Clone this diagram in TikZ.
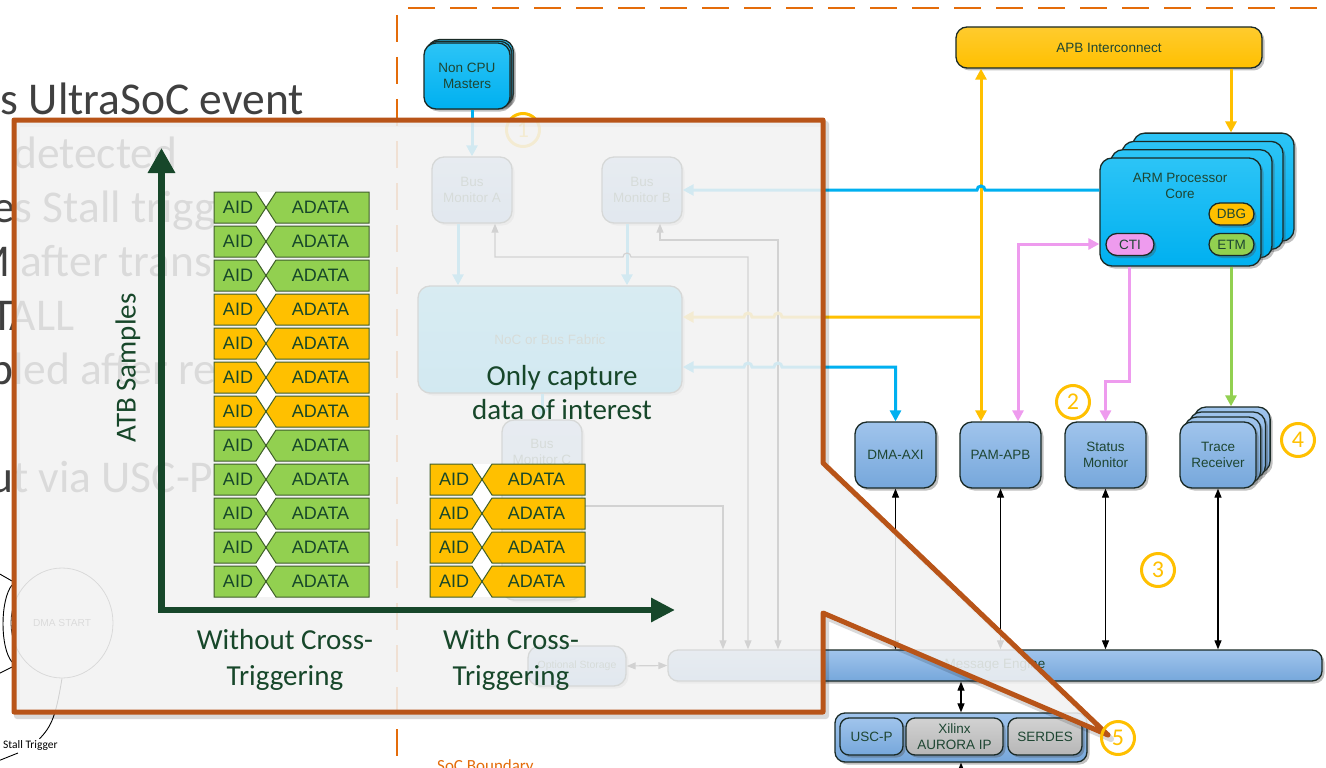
\documentclass[tikz,border=0pt]{standalone}
\usepackage{fontspec}
\usetikzlibrary{arrows.meta,shadows,shapes.geometric}
\setmainfont{Carlito}
\newfontfamily\lsans{Liberation Sans}
\newcommand\fsz[2]{\fontsize{#1}{#2}\selectfont}

\definecolor{soc}{HTML}{E46C0A}
\definecolor{callout}{HTML}{B85418}
\definecolor{darkgreen}{HTML}{17472A}
\definecolor{boxtext}{HTML}{1E4632}
\definecolor{edge}{HTML}{1A2A26}
\definecolor{cyanc}{HTML}{00B0F0}
\definecolor{cyantop}{HTML}{2CC4F6}
\definecolor{gold}{HTML}{FFC000}
\definecolor{goldtop}{HTML}{FFCB2E}
\definecolor{pinkc}{HTML}{EE9BEE}
\definecolor{lime}{HTML}{92D050}
\definecolor{bluetop}{HTML}{A0C4EC}
\definecolor{bluebot}{HTML}{76A7DB}
\definecolor{graytop}{HTML}{D2D2D2}
\definecolor{graybot}{HTML}{B6B6B6}
\definecolor{slidegray}{HTML}{404040}
\definecolor{panelgray}{HTML}{F2F2F2}
\definecolor{rowedge}{HTML}{3F5F2A}

\tikzset{
  boxshadow/.style={drop shadow={shadow xshift=2.5pt,shadow yshift=-2.5pt,opacity=0.35,fill=black!70}},
  box/.style={draw=edge, line width=1.3pt, rounded corners=12pt, inner sep=0pt, align=center,
    text=boxtext, font=\lsans\fsz{13.5}{16.5}, boxshadow},
  bluebox/.style={box, top color=bluetop, bottom color=bluebot},
  cyanbox/.style={box, top color=cyantop, bottom color=cyanc},
  goldbox/.style={box, top color=goldtop, bottom color=gold},
  graybox/.style={box, top color=graytop, bottom color=graybot},
  pill/.style={box, rounded corners=11pt, minimum height=22pt},
  numc/.style={circle, draw=gold, line width=3pt, minimum size=33pt, inner sep=0pt, text=gold, font=\fsz{24}{24}},
  wire/.style={line width=3pt, >={Triangle[length=11pt,width=11pt]}},
  cyanwire/.style={wire, draw=cyanc},
  goldwire/.style={wire, draw=gold},
  pinkwire/.style={wire, draw=pinkc},
  limewire/.style={wire, draw=lime},
  blk/.style={draw=black, line width=1.2pt, >={Triangle[length=9pt,width=7pt]}},
  slide/.style={inner sep=0pt, text=slidegray, font=\fsz{45.5}{54}},
  calltext/.style={inner sep=0pt, text=darkgreen, font=\fsz{29}{34}},
  rowtext/.style={inner sep=0pt, text=darkgreen, font=\lsans\fsz{18}{20}},
  plaintext/.style={inner sep=0pt, text=boxtext, font=\lsans\fsz{13.5}{16.5}, align=center},
}

% one ATB beat: AID field and ADATA field with the bus-transition notch
\newcommand\atbrow[4]{%
  \filldraw[fill=#3, draw=rowedge, line width=1pt] (#1,#2) -- ++(42,0) -- ++(10,15.5) -- ++(-10,15.5) -- ++(-42,0) -- cycle;
  \filldraw[fill=#3, draw=rowedge, line width=1pt] ({#1+62},#2) -- ++(93,0) -- ++(0,31) -- ++(-93,0) -- ++(-10,-15.5) -- cycle;
  \node[rowtext] (aid#4) at ({#1+24},{#2+15.5}) {AID};
  \node[rowtext] (adata#4) at ({#1+106.5},{#2+15.5}) {ADATA};
}

\begin{document}
\begin{tikzpicture}[x=1pt,y=-1pt]
\useasboundingbox (0,0) rectangle (1326,768);
\clip (0,0) rectangle (1326,768);
\fill[white] (0,0) rectangle (1326,768);

% ---------- slide bullet text ----------
\node[slide, anchor=base east] (b1) at (304,114) {ts UltraSoC event};
\node[slide, anchor=base west] (b2) at (13,168) {detected};
\node[slide, anchor=base west] (b3) at (-8,222) {es Stall trigger};
\node[slide, anchor=base west] (b4) at (-29,276) {M after trans};
\node[slide, anchor=base west] (b5) at (-9,330) {TALL};
\node[slide, anchor=base west] (b6) at (-11,384) {bled after re};
\node[slide, anchor=base west] (b8) at (-11,492) {ut via USC-P};

% ---------- state machine fragment ----------
\node[ellipse, draw=black!80, line width=0.8pt, minimum width=102pt, minimum height=110pt, inner sep=0pt,
      font=\lsans\fsz{10.2}{12}, text=black!75] (dmast) at (62,623) {DMA START};
\coordinate (sm1) at (-2,573);
\coordinate (sm2) at (12,581);
\coordinate (sm3) at (12,585);
\coordinate (sm4) at (12,662);
\coordinate (sm5) at (-2,674);
\coordinate (sm6) at (12,667);
\draw[line width=0.9pt] (sm1) -- (sm2);
\draw[line width=0.9pt] (sm3) .. controls (0,600) and (0,648) .. (sm4);
\draw[line width=0.9pt] (sm5) -- (sm6);
\node[inner sep=0pt, anchor=base west, font=\fsz{11.5}{13}] (stl) at (3,748) {Stall Trigger};
\draw[line width=0.9pt] (dmast.south) .. controls (56,715) and (52,726) .. ([xshift=9pt,yshift=1pt]stl.north);
\coordinate (sm7) at (-2,761);
\coordinate (sm8) at (18,753);
\draw[line width=0.9pt] (sm7) -- (sm8);

% ---------- SoC boundary ----------
\draw[soc, line width=2.5pt, dash pattern=on 27pt off 15pt] (408,8) -- (1330,8);
\draw[soc, line width=2.5pt, dash pattern=on 27pt off 15pt] (397,15) -- (397,775);
\node[inner sep=0pt, anchor=base west, text=soc, font=\fsz{17}{19}] (socl) at (437,771) {SoC Boundary};

% ---------- blocks ----------
\node[goldbox, minimum width=306pt, minimum height=41pt, rounded corners=11pt] (apb) at (1109,47.5) {APB Interconnect};

\foreach \k in {3,2,1}{
  \node[cyanbox, minimum width=161pt, minimum height=108pt] (arm\k) at ({1180.5+11*\k},{212-8.3*\k}) {};
}
\node[cyanbox, minimum width=161pt, minimum height=108pt] (arm) at (1180.5,212) {};
\node[plaintext] (armt) at (1180,186) {ARM Processor\\Core};
\node[pill, fill=gold, minimum width=45pt] (dbg) at (1231.5,214) {DBG};
\node[pill, fill=lime, minimum width=45pt] (etm) at (1231.5,244.5) {ETM};
\node[pill, fill=pinkc, minimum width=48pt] (cti) at (1130,244.5) {CTI};

\foreach \k in {2,1}{
  \node[cyanbox, minimum width=86pt, minimum height=66pt] (ncm\k) at ({467+1.7*\k},{76-1.7*\k}) {};
}
\node[cyanbox, minimum width=86pt, minimum height=66pt] (ncm) at (467,76) {Non CPU\\Masters};

\coordinate (ga) at (748,257);
\coordinate (gb) at (778,240);
\coordinate (gc) at (723,506);
\coordinate (yj) at (981,317);

\node[bluebox, minimum width=80pt, minimum height=66pt] (bma) at (472,190) {Bus\\Monitor A};
\node[bluebox, minimum width=80pt, minimum height=66pt] (bmb) at (642,190) {Bus\\Monitor B};
\node[cyanbox, minimum width=264pt, minimum height=107pt] (noc) at (550,339.5) {NoC or Bus Fabric};
\node[bluebox, minimum width=80pt, minimum height=180pt] (bmc) at (542,510) {};
\node[plaintext] (bmct) at (542,452) {Bus\\Monitor C};
\node[bluebox, minimum width=98pt, minimum height=40pt, font=\lsans\fsz{10.5}{12}] (ost) at (577,666) {Optional Storage};
\node[bluebox, minimum width=654pt, minimum height=31pt, rounded corners=10pt] (me) at (995,665.5) {Message Engine};

\node[bluebox, minimum width=81pt, minimum height=66pt] (dma) at (895.5,455) {DMA-AXI};
\node[bluebox, minimum width=81pt, minimum height=66pt] (pam) at (1000.5,455) {PAM-APB};
\node[bluebox, minimum width=81pt, minimum height=66pt] (stat) at (1105.5,455) {Status\\Monitor};
\foreach \k in {3,2,1}{
  \node[bluebox, minimum width=76pt, minimum height=66pt] (trace\k) at ({1218+4.7*\k},{455-5*\k}) {};
}
\node[bluebox, minimum width=76pt, minimum height=66pt] (trace) at (1218,455) {Trace\\Receiver};

\node[bluebox, minimum width=252pt, minimum height=49pt, rounded corners=10pt] (grp) at (961,737.5) {};
\node[bluebox, minimum width=63pt, minimum height=37pt, rounded corners=9pt] (usc) at (871.5,736.5) {USC-P};
\node[graybox, minimum width=97pt, minimum height=37pt, rounded corners=9pt] (aur) at (954.5,736.5) {Xilinx\\AURORA IP};
\node[graybox, minimum width=74pt, minimum height=37pt, rounded corners=9pt] (ser) at (1045,736.5) {SERDES};

% cyan feeds into the fabric
\draw[cyanwire,->] (bma.north |- ncm.south) -- (bma.north);
\draw[cyanwire,->] ([xshift=-14pt]bma.south) -- ([xshift=-14pt]bma.south |- noc.north);
\draw[cyanwire,->] ([xshift=-15pt]bmb.south) -- ([xshift=-15pt]bmb.south |- noc.north);
\draw[cyanwire,->] (bmc.north |- noc.south) -- (bmc.north);

% monitor message paths
\draw[blk,<->] ([xshift=23pt]bma.south) |- (623,257) arc[start angle=180,end angle=0,radius=4pt] -- (ga) -- (ga |- me.north);
\draw[blk,<->] ([xshift=18pt]bmb.south) |- (gb) -- (gb |- me.north);
\draw[blk,->] (bmc.east |- gc) -- (gc) -- (gc |- me.north);
\draw[blk,<->] (ost.east) -- (me.west);
\draw[blk,<->] (dma.south) -- (dma.south |- me.north);
\draw[blk,<->] (pam.south) -- (pam.south |- me.north);
\draw[blk,<->] (stat.south) -- (stat.south |- me.north);
\draw[blk,<->] (trace.south) -- (trace.south |- me.north);
\draw[blk,<->] (grp.north) -- (grp.north |- me.south);
\coordinate (gend) at (961,790);
\draw[blk,<-] (grp.south) -- (gend);

% APB and debug wiring
\draw[goldwire,<->] ([xshift=-128pt]apb.south) -- ([xshift=-128pt]apb.south |- pam.north);
\draw[goldwire,->] (yj) -- (782,317) arc[start angle=0,end angle=180,radius=4pt] -- (752,317) arc[start angle=0,end angle=180,radius=4pt] -- (noc.east |- yj);
\draw[goldwire,->] ([xshift=122pt]apb.south) -- ([xshift=122pt]apb.south |- arm3.north);
\draw[cyanwire,->] ([yshift=22pt]arm.west) -- (985,190) arc[start angle=0,end angle=180,radius=4pt] -- (bmb.east);
\draw[cyanwire,<->] ([yshift=-27.5pt]noc.east) -- (744,367) arc[start angle=180,end angle=0,radius=4pt] -- (774,367) arc[start angle=180,end angle=0,radius=4pt] -| (dma.north);
\draw[pinkwire,<->] ([xshift=17.5pt]pam.north) |- ([yshift=-32pt]arm.west);
\draw[pinkwire,->] ([xshift=-51.5pt]arm.south) -- ++(0,115) -| (stat.north);
\draw[limewire,->] ([xshift=50.5pt]arm.south) -- ([xshift=50.5pt]arm.south |- trace3.north);

% step markers
\node[numc] (n1) at (523,130) {1};
\node[numc] (n2) at (1073,402) {2};
\node[numc] (n3) at (1158,570) {3};
\node[numc] (n4) at (1298,440) {4};

% ---------- callout panel ----------
\draw[black, opacity=0.15, line width=6pt, line join=round, xshift=3pt, yshift=-4pt]
  (14,120) -- (823,120) -- (823,463) -- (1108,735) -- (823,613) -- (823,712) -- (14,712) -- cycle;
\fill[panelgray, fill opacity=0.87]
  (14,120) -- (823,120) -- (823,463) -- (1108,735) -- (823,613) -- (823,712) -- (14,712) -- cycle;
\draw[callout, line width=5pt, line join=round]
  (14,120) -- (823,120) -- (823,463) -- (1108,735) -- (823,613) -- (823,712) -- (14,712) -- cycle;
\node[numc] (n5) at (1118,738) {5};

% ATB sample stacks
\fill[white] (255,192) rectangle (277,597);
\fill[white] (471,464) rectangle (493,597);
\foreach \i/\rc in {0/lime,1/lime,2/lime,3/gold,4/gold,5/gold,6/gold,7/lime,8/lime,9/lime,10/lime,11/lime}{
  \atbrow{214}{192+34*\i}{\rc}{L\i}
}
\foreach \i in {0,...,3}{
  \atbrow{430}{464+34*\i}{gold}{R\i}
}

% axes
\draw[darkgreen, line width=6.5pt, line join=miter,
      {Triangle[length=25pt,width=26pt]}-{Triangle[length=24pt,width=23pt]}]
  (161.5,148) -- (161.5,610) -- (675,610);

\node[calltext, rotate=90] (atb) at (128,368) {ATB Samples};
\node[calltext, anchor=base] (oc1) at (562,385) {Only capture};
\node[calltext, anchor=base] (oc2) at (562,419) {data of interest};
\node[calltext, anchor=base] (wo1) at (285,649) {Without Cross-};
\node[calltext, anchor=base] (wo2) at (285,685) {Triggering};
\node[calltext, anchor=base] (wi1) at (511,649) {With Cross-};
\node[calltext, anchor=base] (wi2) at (511,685) {Triggering};
\end{tikzpicture}
\end{document}
